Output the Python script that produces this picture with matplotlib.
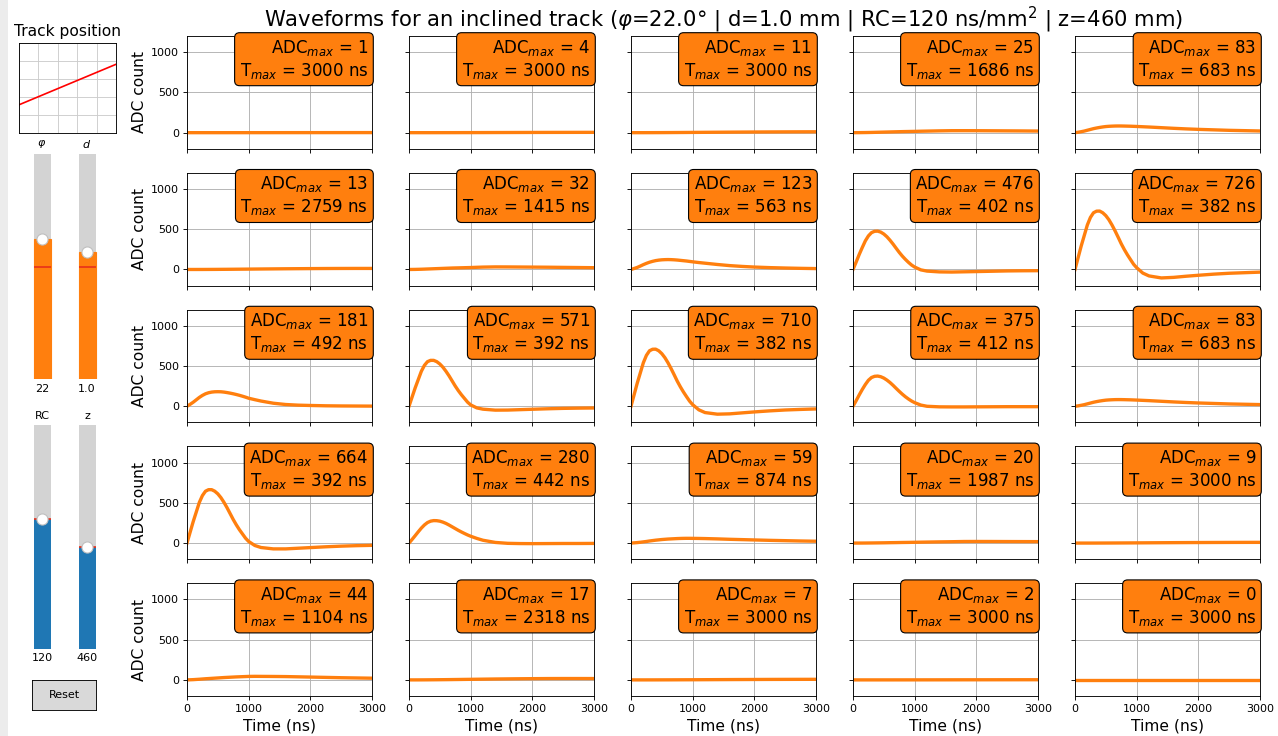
import matplotlib
matplotlib.use("Agg")
import matplotlib.pyplot as plt
from matplotlib.widgets import Slider, Button
from matplotlib.patches import Rectangle

DPI = 80
W_PX, H_PX = 1278, 736

# ----------------- track / slider settings -----------------
phi_deg = 22.0
d_mm = 1.0
rc_ns = 120
z_mm = 460

phi_range = (-90, 90)
d_range = (-8, 8)
rc_range = (10, 200)
z_range = (10, 1000)

# track drawn in the little "Track position" box (grid units)
track_x = [0, 5]
track_y = [1.55, 3.8]

# ----------------- waveforms -----------------
t_ns = [0, 50, 100, 150, 200, 250, 300, 350, 400, 450, 500, 550, 600, 650, 700,
        750, 800, 850, 900, 950, 1000, 1100, 1200, 1400, 1600, 1800, 2000,
        2250, 2500, 2750, 3000]

w_r1c1 = [0, 0, 0, 0, 0, 0, 0, 0, 0, 0, 0, 0, 0, 0, 0.1, 0.1, 0.1, 0.1, 0.1, 0.1,
          0.2, 0.2, 0.2, 0.3, 0.4, 0.5, 0.6, 0.7, 0.8, 0.9, 1]
w_r1c2 = [0, 0, 0, 0, 0, 0, 0, 0, 0.1, 0.1, 0.2, 0.2, 0.3, 0.3, 0.4, 0.4, 0.5, 0.6,
          0.7, 0.7, 0.8, 1, 1.2, 1.6, 2, 2.4, 2.8, 3.2, 3.5, 3.8, 4]
w_r1c3 = [0, 0, 0, 0, 0, 0.1, 0.2, 0.3, 0.5, 0.6, 0.8, 1, 1.2, 1.4, 1.7, 1.9, 2.2,
          2.4, 2.7, 3, 3.3, 3.8, 4.4, 5.5, 6.5, 7.4, 8.3, 9.2, 10, 10.6, 11]
w_r1c4 = [0, 0.2, 0.5, 1, 1.5, 2.2, 3, 4, 5, 6, 7, 8, 9, 10, 11, 12, 13, 13.8, 14.5,
          15.3, 16, 18, 19.5, 22.5, 24.7, 24.8, 24.5, 23.5, 22.5, 21.5, 20]
w_r1c5 = [0, 5, 12, 20, 30, 40, 50, 58, 65, 71, 76, 79, 81, 82.5, 83, 82.8, 82, 81,
          80, 78.5, 77, 73.5, 70, 62, 54, 47, 41, 35, 29, 25, 21]

w_r2c1 = [0, 0, 0, 0, 0.1, 0.2, 0.4, 0.6, 0.8, 1, 1.3, 1.6, 1.9, 2.2, 2.5, 2.8, 3.2,
          3.5, 3.9, 4.2, 4.6, 5.3, 6, 7.4, 8.7, 9.8, 10.8, 11.9, 12.6, 13, 13]
w_r2c2 = [0, 0.5, 1, 2, 3, 4.5, 6, 7.5, 9, 10.5, 12, 13.5, 15, 16.5, 18, 19, 20, 21,
          22, 23, 24, 27, 29.5, 32, 31.5, 30.5, 29.5, 28, 26, 24, 22]
w_r2c3 = [0, 12, 25, 42, 60, 76, 90, 101, 110, 116, 120, 122, 123, 122, 120, 117, 113,
          109, 105, 100, 95, 86, 78, 62, 48, 38, 30, 23, 18, 14, 11]
w_r2c4 = [0, 90, 185, 272, 355, 417, 457, 474, 476, 464, 440, 406, 363, 315, 263, 212,
          166, 125, 88, 55, 30, -5, -20, -30, -32, -29, -26, -22, -18, -16, -15]
w_r2c5 = [0, 145, 290, 421, 552, 646, 704, 724, 725, 704, 668, 617, 552, 479, 400, 319,
          247, 182, 123, 65, 22, -45, -80, -105, -98, -84, -72, -58, -47, -40, -33]

w_r3c1 = [0, 24, 50, 80, 110, 135, 155, 168, 176, 180, 181, 180, 176, 170, 163, 155,
          146, 136, 125, 113, 100, 82, 65, 38, 22, 14, 10, 6, 4, 3, 2]
w_r3c2 = [0, 114, 228, 331, 434, 508, 554, 570, 570, 554, 525, 485, 434, 377, 314, 251,
          194, 143, 97, 51, 17, -20, -36, -48, -47, -42, -37, -31, -26, -23, -21]
w_r3c3 = [0, 142, 284, 412, 540, 632, 689, 708, 709, 689, 653, 603, 540, 468, 391, 312,
          242, 178, 120, 64, 20, -44, -78, -98, -94, -82, -70, -57, -46, -39, -33]
w_r3c4 = [0, 68, 140, 208, 270, 323, 357, 372, 375, 367, 350, 325, 295, 260, 222, 185,
          150, 118, 90, 65, 45, 15, 0, -7, -8, -8, -7, -6, -5, -5, -5]
w_r3c5 = [0, 5, 12, 20, 30, 40, 50, 58, 65, 71, 76, 79, 81, 82.5, 83, 82.8, 82, 81,
          80, 78.5, 77, 73.5, 70, 62, 54, 47, 41, 35, 29, 25, 21]

w_r4c1 = [0, 133, 265, 385, 505, 590, 644, 663, 663, 644, 611, 564, 505, 438, 365, 292,
          226, 166, 113, 60, 20, -30, -55, -72, -72, -64, -56, -46, -38, -32, -28]
w_r4c2 = [0, 45, 92, 140, 186, 225, 255, 272, 279, 278, 272, 260, 244, 224, 202, 180,
          158, 138, 119, 101, 85, 58, 35, 8, -3, -6, -7, -6, -5, -5, -4]
w_r4c3 = [0, 3, 6, 10, 15, 20, 26, 31, 36, 40, 44, 47, 50, 52, 54, 56, 57.5, 58.5, 59,
          59, 58.5, 57.5, 56, 52, 47, 43, 39, 34, 30, 26, 23]
w_r4c4 = [0, 0.1, 0.2, 0.4, 0.7, 1.1, 1.5, 2, 2.5, 3, 3.5, 4.2, 5, 5.5, 6, 6.8, 7.5,
          8, 8.5, 9.2, 10, 11.2, 12.5, 15, 17, 19.6, 20, 19.7, 19, 18.5, 18]
w_r4c5 = [0, 0, 0, 0, 0, 0, 0.1, 0.2, 0.4, 0.5, 0.7, 0.8, 1, 1.2, 1.4, 1.6, 1.8, 2,
          2.2, 2.4, 2.7, 3.1, 3.6, 4.5, 5.3, 6.1, 6.8, 7.5, 8.2, 8.7, 9]

w_r5c1 = [0, 1.5, 3, 5.5, 8, 11, 14, 16.5, 19, 21.5, 24, 26.5, 29, 31, 33, 35, 37,
          38.5, 40, 41.5, 43, 44, 43.5, 42.5, 41, 38, 35, 31, 27, 24, 21]
w_r5c2 = [0, 0, 0, 0.1, 0.3, 0.5, 0.8, 1.1, 1.4, 1.8, 2.2, 2.6, 3, 3.5, 4, 4.5, 5,
          5.5, 6, 6.5, 7, 8, 9, 11, 12.5, 14, 15.2, 16.5, 16.9, 16.8, 16.5]
w_r5c3 = [0, 0, 0, 0, 0, 0, 0.1, 0.1, 0.2, 0.3, 0.4, 0.5, 0.6, 0.7, 0.9, 1, 1.2, 1.3,
          1.5, 1.6, 1.8, 2.1, 2.5, 3.2, 3.9, 4.5, 5.1, 5.8, 6.3, 6.7, 7]
w_r5c4 = [0, 0, 0, 0, 0, 0, 0, 0, 0, 0, 0.1, 0.1, 0.1, 0.1, 0.2, 0.2, 0.2, 0.2, 0.3,
          0.3, 0.4, 0.4, 0.5, 0.7, 0.9, 1.1, 1.3, 1.5, 1.7, 1.9, 2]
w_r5c5 = [0] * len(t_ns)

rows = [
    [w_r1c1, w_r1c2, w_r1c3, w_r1c4, w_r1c5],
    [w_r2c1, w_r2c2, w_r2c3, w_r2c4, w_r2c5],
    [w_r3c1, w_r3c2, w_r3c3, w_r3c4, w_r3c5],
    [w_r4c1, w_r4c2, w_r4c3, w_r4c4, w_r4c5],
    [w_r5c1, w_r5c2, w_r5c3, w_r5c4, w_r5c5],
]

adc_max = [[1, 4, 11, 25, 83],
           [13, 32, 123, 476, 726],
           [181, 571, 710, 375, 83],
           [664, 280, 59, 20, 9],
           [44, 17, 7, 2, 0]]

t_max = [[3000, 3000, 3000, 1686, 683],
         [2759, 1415, 563, 402, 382],
         [492, 392, 382, 412, 683],
         [392, 442, 874, 1987, 3000],
         [1104, 2318, 3000, 3000, 3000]]


def fx(px):
    return px / W_PX


def fy(px):
    return 1 - px / H_PX


fig = plt.figure(figsize=(W_PX / DPI, H_PX / DPI), dpi=DPI)

# grey strip at the very left (window border)
fig.patches.append(Rectangle((0, 0), fx(8), 1, transform=fig.transFigure,
                             facecolor="#ececec", edgecolor="none", zorder=-1))

# ----------------- waveform grid -----------------
gs = fig.add_gridspec(5, 5, left=fx(187), right=fx(1260), top=fy(36), bottom=fy(696),
                      wspace=0.2, hspace=0.213)
axes = gs.subplots(sharex=True, sharey=True)

for r, waves in enumerate(rows):
    for c, w in enumerate(waves):
        ax = axes[r, c]
        ax.plot(t_ns, w, color="tab:orange", lw=3)
        ax.grid(True)
        ax.text(0.98, 0.985,
                f"ADC$_{{max}}$ = {adc_max[r][c]}\nT$_{{max}}$ = {t_max[r][c]} ns",
                transform=ax.transAxes, ha="right", va="top", fontsize=15,
                bbox=dict(boxstyle="round", facecolor="tab:orange", edgecolor="black"))
        if c == 0:
            ax.set_ylabel("ADC count", fontsize=14)
        if r == 4:
            ax.set_xlabel("Time (ns)", fontsize=14)

axes[0, 0].set_xlim(0, 3000)
axes[0, 0].set_ylim(-200, 1200)
axes[0, 0].set_xticks([0, 1000, 2000, 3000])
axes[0, 0].set_yticks([0, 500, 1000])

fig.text(fx(723.5), fy(20),
         rf"Waveforms for an inclined track ($\varphi$={phi_deg:.1f}° | d={d_mm:.1f} mm | "
         rf"RC={rc_ns} ns/mm$^2$ | z={z_mm} mm)",
         ha="center", va="center", fontsize=19)

# ----------------- track position box -----------------
ax_track = fig.add_axes([fx(19), fy(132.7), fx(97), 90 / H_PX])
ax_track.plot(track_x, track_y, color="red", lw=1.5)
ax_track.set_xlim(0, 5)
ax_track.set_ylim(0, 5)
ax_track.set_xticks(range(6))
ax_track.set_yticks(range(6))
ax_track.tick_params(length=0, labelbottom=False, labelleft=False)
ax_track.grid(True, color="#cccccc")
ax_track.set_title("Track position", fontsize=14)

# ----------------- sliders -----------------
ax_phi = fig.add_axes([fx(25), fy(379), fx(34), 225 / H_PX])
ax_d = fig.add_axes([fx(70), fy(379), fx(34), 225 / H_PX])
ax_rc = fig.add_axes([fx(25), fy(649), fx(34), 224 / H_PX])
ax_z = fig.add_axes([fx(70), fy(649), fx(34), 224 / H_PX])

s_phi = Slider(ax_phi, r"$\varphi$", *phi_range, valinit=0, valfmt="%d",
               orientation="vertical", color="tab:orange")
s_d = Slider(ax_d, r"$d$", *d_range, valinit=0, valfmt="%.1f",
             orientation="vertical", color="tab:orange")
s_rc = Slider(ax_rc, "RC", *rc_range, valinit=rc_ns, valfmt="%d", orientation="vertical")
s_z = Slider(ax_z, "z", *z_range, valinit=z_mm, valfmt="%d", orientation="vertical")
s_phi.set_val(phi_deg)
s_d.set_val(d_mm)
for s in (s_phi, s_d, s_rc, s_z):
    s.hline.set_color("#e8301a")
    s.hline.set_linewidth(1.5)

ax_reset = fig.add_axes([fx(32), fy(710), fx(64), 30 / H_PX])
btn = Button(ax_reset, "Reset")

fig.savefig("out.png", dpi=DPI)
plt.close(fig)
